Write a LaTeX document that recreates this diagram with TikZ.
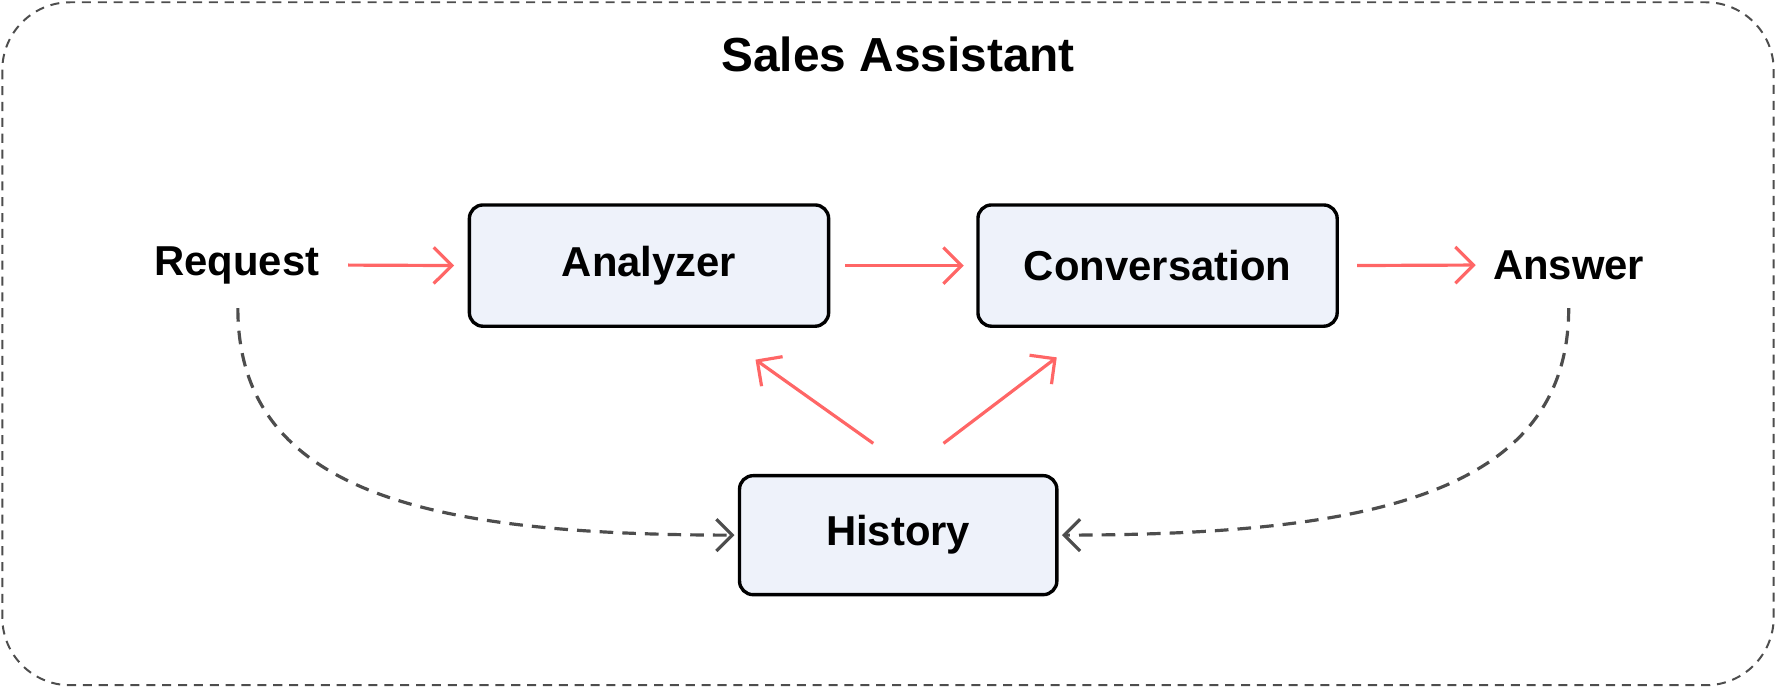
\documentclass[tikz,border=0pt]{standalone}
\usepackage{fontspec}
\setmainfont{Liberation Sans}
\usetikzlibrary{positioning,calc,arrows.meta}
\definecolor{flow}{HTML}{FF6666}
\definecolor{memo}{HTML}{4D4D4D}
\definecolor{boxfill}{HTML}{EEF2FA}
\tikzset{
  stage/.style={draw=black, line width=0.85pt, fill=boxfill, rounded corners=0.12cm,
    minimum width=3.17cm, minimum height=1.07cm, font=\bfseries\fontsize{10.5}{12}\selectfont},
  label/.style={font=\bfseries\fontsize{10.5}{12}\selectfont},
  flowarrow/.style={draw=flow, line width=0.8pt, -{Straight Barb[length=0.16cm,width=0.32cm]}},
  memoarrow/.style={draw=memo, line width=0.8pt, dash pattern=on 0.12cm off 0.08cm,
    -{Straight Barb[length=0.14cm,width=0.28cm]}}
}
\begin{document}
\begin{tikzpicture}[x=0.01cm,y=-0.01cm]
  \useasboundingbox (0,0) rectangle (1568,607);
  \draw[memo, line width=0.5pt, dash pattern=on 0.08cm off 0.06cm, rounded corners=0.6cm]
    (2,2) rectangle (1566,605);
  \node[font=\bfseries\fontsize{12}{14}\selectfont] (title) at (793,48) {Sales Assistant};

  % main flow
  \node[stage] (analyzer) at (573,234.5) {Analyzer};
  \node[stage] (conversation) at (1022,234.5) {Conversation};
  \node[stage, minimum width=2.8cm, minimum height=1.05cm] (history) at (793,472.5) {History};
  \node[label] (request) at (209,234) {Request};
  \node[label] (answer) at (1385,234) {Answer};

  \draw[flowarrow, shorten <=0.13cm, shorten >=0.12cm] (request.east) -- (analyzer.west);
  \draw[flowarrow, shorten <=0.13cm, shorten >=0.11cm] (analyzer) -- (conversation);
  \draw[flowarrow, shorten <=0.16cm, shorten >=0.03cm] (conversation.east) -- (answer.west);

  % history feeds
  \coordinate (h1) at ($(history.north)+(-22,-27)$);
  \coordinate (h2) at ($(history.north)+(40,-27)$);
  \coordinate (a1) at ($(analyzer.south)+(94,28)$);
  \coordinate (c1) at ($(conversation.south)+(-89,26)$);
  \draw[flowarrow] (h1) -- (a1);
  \draw[flowarrow] (h2) -- (c1);

  % stored turns
  \coordinate (rq) at (210,272);
  \coordinate (an) at (1385,272);
  \draw[memoarrow] (rq) .. controls (210,440) and (390,472) .. ($(history.west)+(-3,0)$);
  \draw[memoarrow] (an) .. controls (1385,440) and (1200,472) .. ($(history.east)+(3,0)$);
\end{tikzpicture}
\end{document}
